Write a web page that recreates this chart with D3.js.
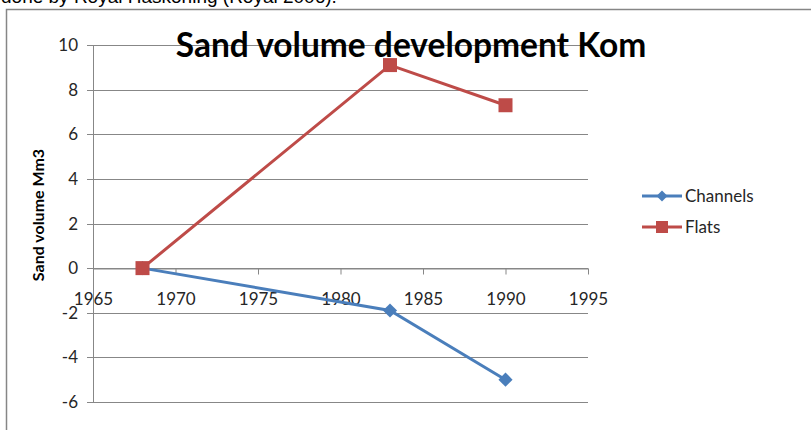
<!DOCTYPE html>
<html>
<head>
<meta charset="utf-8">
<script src="https://cdn.jsdelivr.net/npm/d3@7"></script>
<style>
  body { margin: 0; background: #fff; }
  svg { display: block; }
</style>
</head>
<body>
<div id="chart"></div>
<script>
// data
var years = [1968, 1983, 1990];
var channels = [0, -1.9, -5];
var flats = [0, 9.1, 7.3];
var seriesNames = ["Channels", "Flats"];
var yTicks = [-6, -4, -2, 0, 2, 4, 6, 8, 10];
var xTicks = [1965, 1970, 1975, 1980, 1985, 1990, 1995];

var width = 811, height = 430;
var colors = { Channels: "#4a7ebb", Flats: "#be4b48" };
var font = "Lato, Open Sans, sans-serif";

var svg = d3.select("#chart").append("svg")
    .attr("width", width)
    .attr("height", height);

// line of text above the chart frame, cut off by the top edge
svg.append("text")
    .attr("x", 1)
    .attr("y", 3)
    .attr("font-family", "Liberation Sans, Arial, sans-serif")
    .attr("font-size", 19)
    .attr("fill", "#000")
    .text("done by Royal Haskoning (Royal 2006).");

// chart frame
svg.append("rect")
    .attr("x", 6.5)
    .attr("y", 9.5)
    .attr("width", 830)
    .attr("height", 440)
    .attr("fill", "#fff")
    .attr("stroke", "#868686")
    .attr("stroke-width", 1.5);

var x = d3.scaleLinear().domain([1965, 1995]).range([93, 588]);
var y = d3.scaleLinear().domain([-6, 10]).range([402, 45]);

// gridlines
svg.append("g")
    .selectAll("line")
    .data(yTicks)
    .enter().append("line")
    .attr("x1", 87)
    .attr("x2", x(1995))
    .attr("y1", d => Math.round(y(d)) + 0.5)
    .attr("y2", d => Math.round(y(d)) + 0.5)
    .attr("stroke", "#878787")
    .attr("stroke-width", 1);

// y axis line
svg.append("line")
    .attr("x1", 93.5).attr("x2", 93.5)
    .attr("y1", y(10)).attr("y2", y(-6))
    .attr("stroke", "#878787");

// y tick labels
svg.append("g")
    .selectAll("text")
    .data(yTicks)
    .enter().append("text")
    .attr("x", 78)
    .attr("y", d => y(d) + 6)
    .attr("text-anchor", "end")
    .attr("font-family", font)
    .attr("font-size", 17)
    .attr("fill", "#262626")
    .text(d => d);

// x axis at zero
var xAxis = d3.axisBottom(x)
    .tickValues(xTicks)
    .tickFormat(d3.format("d"))
    .tickSize(6)
    .tickSizeOuter(0);

var gx = svg.append("g")
    .attr("transform", "translate(0," + (Math.round(y(0)) + 0.5) + ")")
    .call(xAxis);
gx.select(".domain").attr("stroke", "#878787");
gx.selectAll(".tick line").attr("stroke", "#878787");
gx.selectAll(".tick text")
    .attr("y", 24)
    .attr("font-family", font)
    .attr("font-size", 17)
    .attr("fill", "#262626");

// title
svg.append("text")
    .attr("x", 411)
    .attr("y", 57)
    .attr("text-anchor", "middle")
    .attr("font-family", font)
    .attr("font-weight", "bold")
    .attr("font-size", 33.5)
    .attr("fill", "#000")
    .text("Sand volume development Kom");

// y axis title
svg.append("text")
    .attr("transform", "translate(44,215) rotate(-90)")
    .attr("text-anchor", "middle")
    .attr("font-family", font)
    .attr("font-weight", "bold")
    .attr("font-size", 16)
    .attr("fill", "#000")
    .text("Sand volume Mm3");

var line = d3.line()
    .x((d, i) => x(years[i]))
    .y(d => y(d));

var diamond = d3.symbol().type(d3.symbolSquare).size(100);

// channels
svg.append("path")
    .datum(channels)
    .attr("d", line)
    .attr("fill", "none")
    .attr("stroke", colors.Channels)
    .attr("stroke-width", 3);

svg.append("g")
    .selectAll("path")
    .data(channels)
    .enter().append("path")
    .attr("d", diamond)
    .attr("transform", (d, i) => "translate(" + x(years[i]) + "," + y(d) + ") rotate(45)")
    .attr("fill", colors.Channels);

// flats
svg.append("path")
    .datum(flats)
    .attr("d", line)
    .attr("fill", "none")
    .attr("stroke", colors.Flats)
    .attr("stroke-width", 3);

svg.append("g")
    .selectAll("rect")
    .data(flats)
    .enter().append("rect")
    .attr("x", (d, i) => x(years[i]) - 7)
    .attr("y", d => y(d) - 7)
    .attr("width", 14)
    .attr("height", 14)
    .attr("fill", colors.Flats);

// legend
var legend = svg.append("g")
    .selectAll("g")
    .data(seriesNames)
    .enter().append("g")
    .attr("transform", (d, i) => "translate(642," + (196 + i * 31) + ")");

legend.append("line")
    .attr("x1", 0).attr("x2", 40)
    .attr("stroke", d => colors[d])
    .attr("stroke-width", 3);

legend.filter(d => d == "Channels").append("path")
    .attr("d", d3.symbol().type(d3.symbolSquare).size(60))
    .attr("transform", "translate(20,0) rotate(45)")
    .attr("fill", colors.Channels);

legend.filter(d => d == "Flats").append("rect")
    .attr("x", 14).attr("y", -6)
    .attr("width", 12).attr("height", 12)
    .attr("fill", colors.Flats);

legend.append("text")
    .attr("x", 43)
    .attr("y", 6)
    .attr("font-family", font)
    .attr("font-size", 17)
    .attr("fill", "#262626")
    .text(d => d);
</script>
</body>
</html>
